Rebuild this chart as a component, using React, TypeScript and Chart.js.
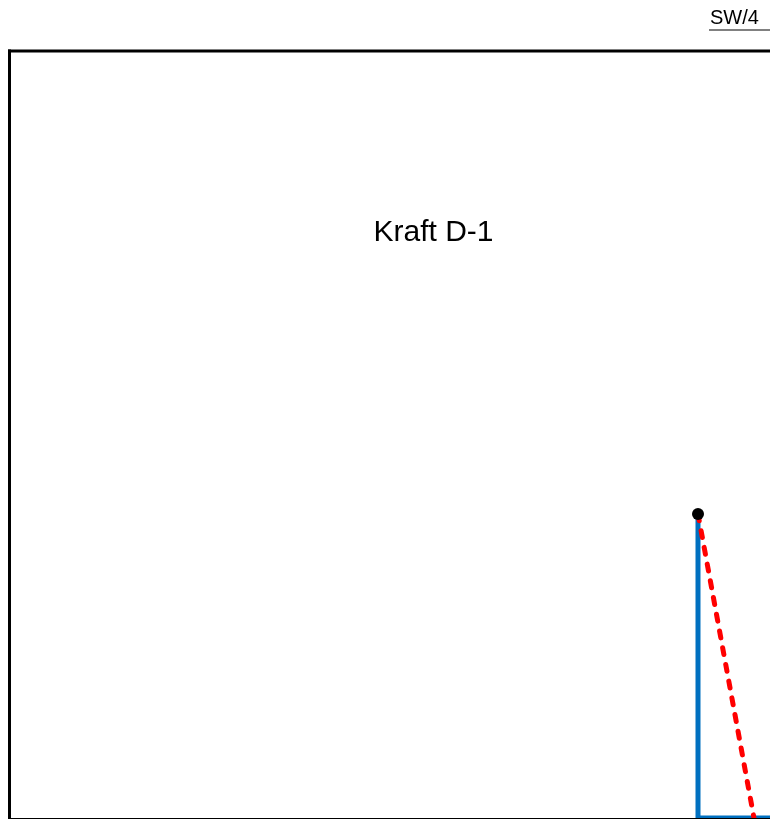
import React, { useEffect, useRef } from "react";
import { Chart, registerables } from "chart.js";

Chart.register(...registerables);

// Data (x: horizontal distance units, y: height units)
const profileX = [86, 86, 100];
const profileY = [39.8, 0, 0];
const slopeX = [86, 93];
const slopeY = [39.8, 0];
const apexX = [86];
const apexY = [39.8];
const chartTitle = "Kraft D-1";
const cornerLabel = "SW/4";

const X_MIN = 0;
const X_MAX = 95;
const Y_MIN = 0;
const Y_MAX = 100.4;

const toPoints = (xs: number[], ys: number[]) => xs.map((x, i) => ({ x, y: ys[i] }));

const framePlugin = {
  id: "frame",
  beforeDatasetsDraw(chart: any) {
    const { ctx, chartArea } = chart;
    const { left, top, right, bottom } = chartArea;
    ctx.save();
    ctx.strokeStyle = "#000";
    ctx.lineCap = "butt";
    // bottom thin line
    ctx.lineWidth = 1;
    ctx.beginPath();
    ctx.moveTo(left, bottom + 0.5);
    ctx.lineTo(right, bottom + 0.5);
    ctx.stroke();
    // left thick line
    ctx.lineWidth = 3;
    ctx.beginPath();
    ctx.moveTo(left - 0.5, top - 1.5);
    ctx.lineTo(left - 0.5, bottom + 2);
    ctx.stroke();
    // top thick line
    ctx.beginPath();
    ctx.moveTo(left - 2, top);
    ctx.lineTo(right, top);
    ctx.stroke();
    // title text
    ctx.fillStyle = "#000";
    ctx.font = '30px "Liberation Sans", Arial, sans-serif';
    ctx.textAlign = "center";
    ctx.textBaseline = "alphabetic";
    ctx.fillText(chartTitle, left + 423.5, top + 190);
    ctx.restore();
  },
};

export default function App() {
  const canvasRef = useRef<HTMLCanvasElement | null>(null);

  useEffect(() => {
    if (!canvasRef.current) return;
    const chart = new Chart(canvasRef.current, {
      type: "line",
      data: {
        datasets: [
          {
            label: "profile",
            data: toPoints(profileX, profileY),
            borderColor: "#0070c0",
            borderWidth: 5,
            pointRadius: 0,
            tension: 0,
            fill: false,
            order: 3,
          },
          {
            label: "slope",
            data: toPoints(slopeX, slopeY),
            borderColor: "#ff0000",
            borderWidth: 5,
            borderDash: [7, 10],
            borderCapStyle: "round",
            pointRadius: 0,
            tension: 0,
            fill: false,
            order: 2,
          },
          {
            label: "apex",
            data: toPoints(apexX, apexY),
            showLine: false,
            pointRadius: 6,
            pointBackgroundColor: "#000",
            pointBorderColor: "#000",
            pointBorderWidth: 0,
            order: 1,
          },
        ],
      },
      options: {
        responsive: false,
        animation: false,
        events: [],
        layout: { autoPadding: false, padding: { left: 10, top: 51, right: 0, bottom: 1 } },
        plugins: {
          legend: { display: false },
          title: { display: false },
          tooltip: { enabled: false },
        },
        scales: {
          x: { type: "linear", min: X_MIN, max: X_MAX, display: false },
          y: { type: "linear", min: Y_MIN, max: Y_MAX, display: false },
        },
      },
      plugins: [framePlugin],
    });
    return () => chart.destroy();
  }, []);

  return (
    <div
      style={{
        position: "fixed",
        left: 0,
        top: 0,
        width: 770,
        height: 819,
        overflow: "hidden",
        background: "#fff",
      }}
    >
      <canvas
        ref={canvasRef}
        width={770}
        height={819}
        style={{ position: "absolute", left: 0, top: 0, width: 770, height: 819 }}
      />
      <div
        style={{
          position: "absolute",
          left: 709,
          top: 6,
          width: 61,
          height: 23,
          lineHeight: "23px",
          fontSize: 20,
          fontFamily: '"Liberation Sans", Arial, sans-serif',
          color: "#000",
          borderBottom: "2px solid #808080",
          paddingLeft: 1,
          boxSizing: "content-box",
          whiteSpace: "nowrap",
        }}
      >
        {cornerLabel}
      </div>
    </div>
  );
}
